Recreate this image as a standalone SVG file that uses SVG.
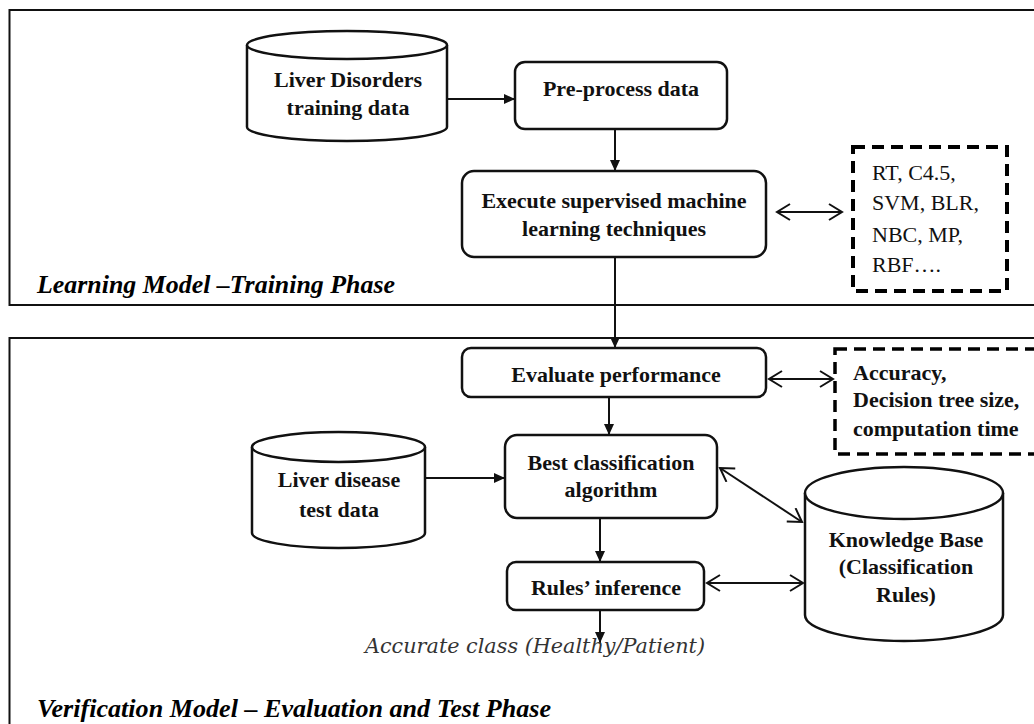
<svg xmlns="http://www.w3.org/2000/svg" width="1034" height="724" viewBox="0 0 1034 724">
<defs>
<style>
.frame{fill:none;stroke:#111;stroke-width:2}
.box{fill:#fff;stroke:#111;stroke-width:2.5}
.cyl{fill:#fff;stroke:#111;stroke-width:2.5}
.dash1{fill:none;stroke:#000;stroke-width:4;stroke-dasharray:12 7}
.dash2{fill:none;stroke:#000;stroke-width:3.5;stroke-dasharray:12 7}
.t{font-family:"Liberation Serif","Times New Roman",serif;font-size:22px;font-weight:bold;fill:#111;text-anchor:middle}
.tl{font-family:"Liberation Serif","Times New Roman",serif;font-size:22px;fill:#111}
.tb{font-family:"Liberation Serif","Times New Roman",serif;font-size:22px;font-weight:bold;fill:#111}
.title{font-family:"Liberation Serif","Times New Roman",serif;font-size:25px;font-weight:bold;font-style:italic;fill:#000}
.out{font-family:"DejaVu Serif","Liberation Serif",serif;font-size:20px;font-style:italic;font-weight:normal;fill:#333}
.c{fill:none;stroke:#111;stroke-width:2}
</style>
<marker id="fa" markerUnits="userSpaceOnUse" markerWidth="12" markerHeight="12" refX="11" refY="6" orient="auto"><path d="M0,1 L11,6 L0,11 z" fill="#111"/></marker>
<marker id="oa" markerUnits="userSpaceOnUse" markerWidth="16" markerHeight="18" refX="14" refY="9" orient="auto-start-reverse"><path d="M1,1 L14,9 L1,17" fill="none" stroke="#111" stroke-width="2"/></marker>
</defs>
<rect width="1034" height="724" fill="#fff"/>
<g id="frame-training"><rect class="frame" x="9.5" y="10" width="1040" height="295"/>
<text class="title" x="37" y="293" textLength="358" lengthAdjust="spacingAndGlyphs">Learning Model –Training Phase</text></g>
<g id="frame-verification"><rect class="frame" x="9.5" y="338" width="1040" height="400"/>
<text class="title" x="37" y="717" textLength="514" lengthAdjust="spacingAndGlyphs">Verification Model – Evaluation and Test Phase</text></g>
<g id="connectors">
<line class="c" x1="447" y1="99" x2="515" y2="99" marker-end="url(#fa)"/>
<line class="c" x1="615" y1="130" x2="615" y2="171" marker-end="url(#fa)"/>
<line class="c" x1="777" y1="212" x2="842" y2="212" marker-start="url(#oa)" marker-end="url(#oa)"/>
<line class="c" x1="615" y1="258" x2="615" y2="348" marker-end="url(#fa)"/>
<line class="c" x1="769" y1="379" x2="833" y2="379" marker-start="url(#oa)" marker-end="url(#oa)"/>
<line class="c" x1="609" y1="398" x2="609" y2="435" marker-end="url(#fa)"/>
<line class="c" x1="425" y1="478" x2="505" y2="478" marker-end="url(#fa)"/>
<line class="c" x1="720" y1="468" x2="802" y2="522" marker-start="url(#oa)" marker-end="url(#oa)"/>
<line class="c" x1="600" y1="519" x2="600" y2="562" marker-end="url(#fa)"/>
<line class="c" x1="707" y1="583" x2="803" y2="583" marker-start="url(#oa)" marker-end="url(#oa)"/>
<line class="c" x1="600" y1="611" x2="600" y2="643" marker-end="url(#fa)"/>
</g>
<g id="node-training-data">
<path class="cyl" d="M247,45 A100,14 0 0 1 447,45 L447,127 A100,14 0 0 1 247,127 Z"/>
<path class="cyl" fill="none" d="M247,45 A100,14 0 0 0 447,45"/>
<text class="t" x="348" y="87">Liver Disorders</text>
<text class="t" x="348" y="115">training data</text>
</g>
<g id="node-preprocess">
<rect class="box" x="515" y="62" width="212" height="67" rx="10"/>
<text class="t" x="621" y="96">Pre-process data</text>
</g>
<g id="node-execute">
<rect class="box" x="462" y="171" width="304" height="86" rx="12"/>
<text class="t" x="614" y="208">Execute supervised machine</text>
<text class="t" x="614" y="236">learning techniques</text>
</g>
<g id="node-algorithms">
<rect class="dash1" x="853" y="147" width="154" height="144"/>
<text class="tl" x="872" y="180">RT, C4.5,</text>
<text class="tl" x="872" y="210">SVM, BLR,</text>
<text class="tl" x="872" y="242">NBC, MP,</text>
<text class="tl" x="872" y="272">RBF….</text>
</g>
<g id="node-evaluate">
<rect class="box" x="462" y="348" width="304" height="49" rx="9"/>
<text class="t" x="616" y="382">Evaluate performance</text>
</g>
<g id="node-metrics">
<rect class="dash2" x="835" y="349" width="240" height="105"/>
<text class="tb" x="853" y="380">Accuracy,</text>
<text class="tb" x="853" y="407">Decision tree size,</text>
<text class="tb" x="853" y="436">computation time</text>
</g>
<g id="node-test-data">
<path class="cyl" d="M252,447 A86.5,15 0 0 1 425,447 L425,533 A86.5,15 0 0 1 252,533 Z"/>
<path class="cyl" fill="none" d="M252,447 A86.5,15 0 0 0 425,447"/>
<text class="t" x="339" y="487">Liver disease</text>
<text class="t" x="339" y="517">test data</text>
</g>
<g id="node-best">
<rect class="box" x="505" y="435" width="212" height="83" rx="12"/>
<text class="t" x="611" y="470">Best classification</text>
<text class="t" x="611" y="497">algorithm</text>
</g>
<g id="node-rules">
<rect class="box" x="507" y="562" width="197" height="48" rx="9"/>
<text class="t" x="606" y="595">Rules’ inference</text>
</g>
<g id="node-knowledge-base">
<path class="cyl" d="M805,493 A99,26 0 0 1 1003,493 L1003,615 A99,26 0 0 1 805,615 Z"/>
<path class="cyl" fill="none" d="M805,493 A99,26 0 0 0 1003,493"/>
<text class="t" x="906" y="547">Knowledge Base</text>
<text class="t" x="906" y="574">(Classification</text>
<text class="t" x="906" y="602">Rules)</text>
</g>
<g id="output-label">
<text class="out" x="365" y="653" textLength="340" lengthAdjust="spacingAndGlyphs">Accurate class (Healthy/Patient)</text>
</g>
</svg>
